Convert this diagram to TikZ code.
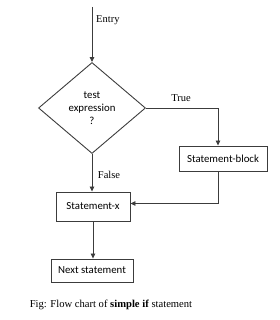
\documentclass[tikz,border=0pt]{standalone}
\usepackage{fontspec}
\setmainfont{Liberation Serif}
\newfontfamily\boxfont{Carlito}
\usetikzlibrary{shapes.geometric,arrows.meta}
\definecolor{ln}{RGB}{60,60,60}
\tikzset{
  conn/.style={draw=ln, line width=0.8pt},
  arr/.style={conn, -{Triangle[length=5pt,width=4.5pt]}},
  box/.style={draw=ln, line width=0.9pt, rectangle, inner sep=0pt, font=\boxfont\fontsize{10.8}{13}\selectfont},
  lbl/.style={font=\fontsize{10.5}{12}\selectfont, inner sep=0pt},
}
\begin{document}
\begin{tikzpicture}[x=1pt,y=-1pt]
\useasboundingbox (0,0) rectangle (280,320);
\coordinate (entry) at (92,7);
\node[box, diamond, minimum width=107pt, minimum height=91pt, align=center] (d) at (92,108) {test\\expression\\?};
\node[box, minimum width=88pt, minimum height=25pt] (sb) at (223,158.5) {Statement-block};
\node[box, minimum width=74pt, minimum height=29pt] (sx) at (93,206.5) {Statement-x};
\node[box, minimum width=82pt, minimum height=23pt] (ns) at (92,270.5) {Next statement};
\coordinate (turn) at (218,108);
\draw[arr] (entry) -- (d.north);
\draw[arr] (d.east) -- (turn) -- (turn |- sb.north);
\draw[arr] (d.south) -- (sx.north -| d.south);
\draw[arr] (sb.south -| turn) |- ([yshift=3pt]sx.east);
\draw[arr] (sx.south) -- (sx.south |- ns.north);
\node[lbl, anchor=west] (lentry) at (96,20) {Entry};
\node[lbl] (ltrue) at (181,98) {True};
\node[lbl] (lfalse) at (109,175) {False};
\node[lbl, font=\fontsize{10.6}{12}\selectfont] (cap) at (111,305) {Fig: Flow chart of \textbf{simple if} statement};
\end{tikzpicture}
\end{document}
